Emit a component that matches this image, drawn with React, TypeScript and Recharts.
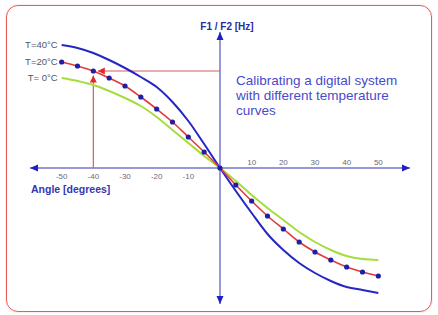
import React from 'react';
import { LineChart, Line, XAxis, YAxis, ReferenceLine, ReferenceDot, Customized } from 'recharts';

// Angle in degrees
const angles = [-50, -45, -40, -35, -30, -25, -20, -15, -10, -5, 0, 5, 10, 15, 20, 25, 30, 35, 40, 45, 50];
// F1/F2 response (arbitrary units) for each temperature
const t40 = [123, 120, 115, 108, 100, 91, 81, 66, 47, 24, 0, -23, -45, -66, -82, -95, -105, -113, -119, -122, -125];
const t20 = [106, 102, 97, 90, 82, 71, 59, 46, 31, 16, 0, -17, -33, -48, -61, -74, -84, -92, -99, -104, -108];
const t0 = [90, 87, 83, 77, 70, 62, 51, 38, 25, 12, 0, -13, -27, -40, -52, -64, -74, -82, -88, -91, -92];

const xTickLabels = [-50, -40, -30, -20, -10, 10, 20, 30, 40, 50];
const curveLabels = ['T=40°C', 'T=20°C', 'T=\u00a00°C'];
const titleLines = ['Calibrating a digital system', 'with different temperature', 'curves'];
const markedAngle = -40;

const data = angles.map((a, i) => ({ angle: a, t40: t40[i], t20: t20[i], t0: t0[i] }));
const markedValue = t20[angles.indexOf(markedAngle)];

const arrowHead = (tipX: number, tipY: number, fromX: number, fromY: number, len: number, halfW: number, color: string, key?: string) => {
  const dx = tipX - fromX;
  const dy = tipY - fromY;
  const d = Math.sqrt(dx * dx + dy * dy) || 1;
  const ux = dx / d;
  const uy = dy / d;
  const bx = tipX - ux * len;
  const by = tipY - uy * len;
  const px = -uy * halfW;
  const py = ux * halfW;
  return (
    <polygon
      key={key}
      points={`${tipX},${tipY} ${bx + px},${by + py} ${bx - px},${by - py}`}
      fill={color}
    />
  );
};

const AxisShape = (props: any) => {
  const { x1, y1, x2, y2 } = props;
  const head = '#1f1fc4';
  return (
    <g>
      <line x1={x1} y1={y1} x2={x2} y2={y2} stroke="#7474cc" strokeWidth={1.5} />
      {arrowHead(x1, y1, x2, y2, 8, 3.5, head, 'a')}
      {arrowHead(x2, y2, x1, y1, 8, 3.5, head, 'b')}
    </g>
  );
};

const PointerShape = (props: any) => {
  const { x1, y1, x2, y2 } = props;
  const dx = x2 - x1;
  const dy = y2 - y1;
  const d = Math.sqrt(dx * dx + dy * dy) || 1;
  const tipX = x2 - (dx / d) * 4.5;
  const tipY = y2 - (dy / d) * 4.5;
  return (
    <g>
      <line x1={x1} y1={y1} x2={tipX} y2={tipY} stroke="#d06060" strokeWidth={1.2} />
      {arrowHead(tipX, tipY, x1, y1, 7, 3.5, '#e8262a')}
    </g>
  );
};

const StaticTexts = () => (
  <g>
    <text x={227} y={29.5} textAnchor="middle" fontSize={10} fontWeight="bold" fill="#2a2aa4">
      F1 / F2 [Hz]
    </text>
    <text x={31} y={193} fontSize={10.5} fontWeight="bold" fill="#3636b2">
      Angle [degrees]
    </text>
    {titleLines.map((t, i) => (
      <text key={t} x={236} y={85 + i * 15} fontSize={13.5} fill="#4a4acc">
        {t}
      </text>
    ))}
  </g>
);

export default function App() {
  return (
    <div
      style={{
        position: 'absolute',
        left: 0,
        top: 0,
        width: 438,
        height: 315,
        background: '#ffffff',
        fontFamily: '"Liberation Sans", Arial, sans-serif',
      }}
    >
      <div
        style={{
          position: 'absolute',
          left: 6,
          top: 5,
          width: 424,
          height: 305,
          border: '1.5px solid #e65c5c',
          borderRadius: 12,
          boxShadow: '0 0 2px rgba(230,90,90,0.35)',
        }}
      />
      <div style={{ position: 'absolute', left: 0, top: 0 }}>
        <LineChart
          width={438}
          height={315}
          data={data}
          margin={{ top: 32, right: 28, bottom: 11, left: 30 }}
        >
          <XAxis dataKey="angle" type="number" domain={[-60, 60]} hide />
          <YAxis type="number" domain={[-136, 136]} hide width={0} />
          <ReferenceLine y={0} shape={AxisShape} ifOverflow="visible" />
          <ReferenceLine x={0} shape={AxisShape} ifOverflow="visible" />
          <ReferenceLine
            segment={[{ x: markedAngle, y: 0 }, { x: markedAngle, y: markedValue }]}
            shape={PointerShape}
            ifOverflow="visible"
          />
          <ReferenceLine
            segment={[{ x: 0, y: markedValue }, { x: markedAngle, y: markedValue }]}
            shape={PointerShape}
            ifOverflow="visible"
          />
          {xTickLabels.map((t) => (
            <ReferenceDot
              key={t}
              x={t}
              y={0}
              r={0}
              fill="none"
              stroke="none"
              ifOverflow="visible"
              label={{
                value: String(t),
                position: t < 0 ? 'bottom' : 'top',
                offset: t < 0 ? 5 : 3,
                fontSize: 8,
                fill: '#6a6a80',
              }}
            />
          ))}
          <Line type="monotone" dataKey="t0" stroke="#a6dc3c" strokeWidth={2} dot={false} isAnimationActive={false} />
          <Line type="monotone" dataKey="t40" stroke="#2626c2" strokeWidth={2} dot={false} isAnimationActive={false} />
          <Line
            type="monotone"
            dataKey="t20"
            stroke="#e03c3c"
            strokeWidth={1.6}
            dot={{ r: 2.6, fill: '#1e1ea6', stroke: 'none' }}
            isAnimationActive={false}
          />
          {[t40[0], t20[0], t0[0]].map((v, i) => (
            <ReferenceDot
              key={curveLabels[i]}
              x={angles[0]}
              y={v}
              r={0}
              fill="none"
              stroke="none"
              ifOverflow="visible"
              label={{ value: curveLabels[i], position: 'left', offset: 4, fontSize: 9.5, fill: '#555566' }}
            />
          ))}
          <Customized component={StaticTexts} />
        </LineChart>
      </div>
    </div>
  );
}
